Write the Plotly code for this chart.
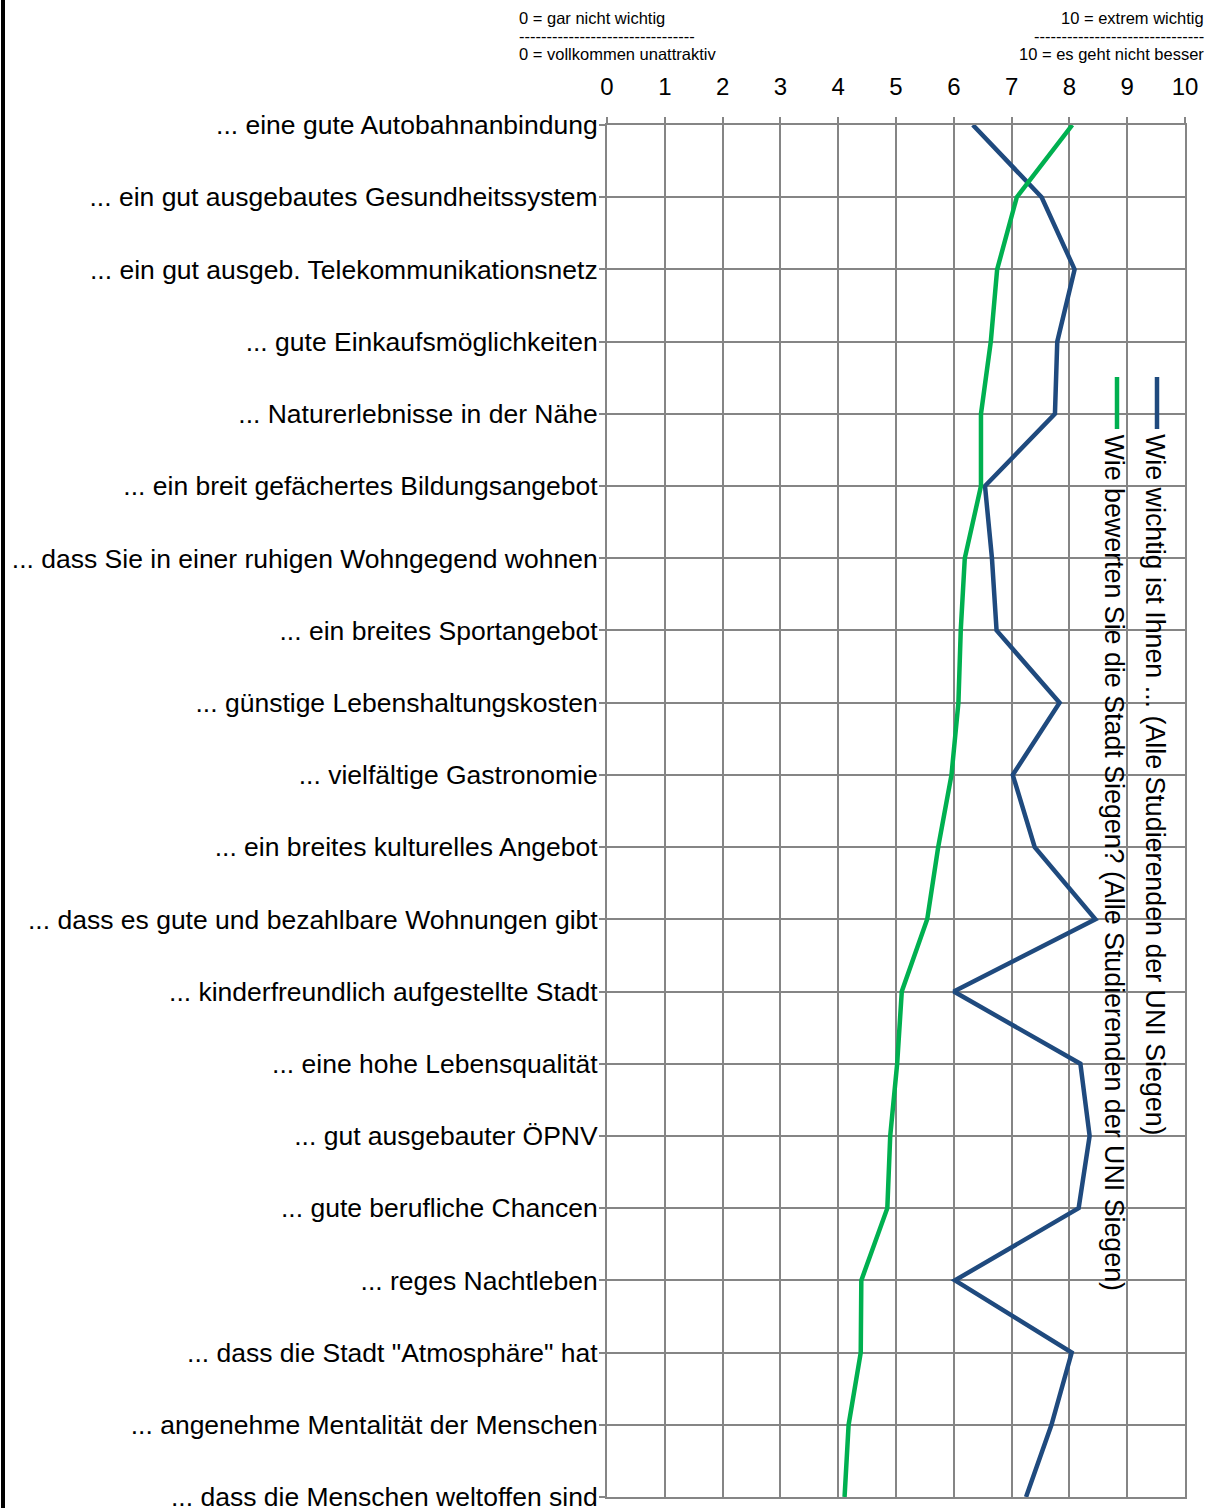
import plotly.graph_objects as go

categories = [
    "... eine gute Autobahnanbindung",
    "... ein gut ausgebautes Gesundheitssystem",
    "... ein gut ausgeb. Telekommunikationsnetz",
    "... gute Einkaufsmöglichkeiten",
    "... Naturerlebnisse in der Nähe",
    "... ein breit gefächertes Bildungsangebot",
    "... dass Sie in einer ruhigen Wohngegend wohnen",
    "... ein breites Sportangebot",
    "... günstige Lebenshaltungskosten",
    "... vielfältige Gastronomie",
    "... ein breites kulturelles Angebot",
    "... dass es gute und bezahlbare Wohnungen gibt",
    "... kinderfreundlich aufgestellte Stadt",
    "... eine hohe Lebensqualität",
    "... gut ausgebauter ÖPNV",
    "... gute berufliche Chancen",
    "... reges Nachtleben",
    "... dass die Stadt \"Atmosphäre\" hat",
    "... angenehme Mentalität der Menschen",
    "... dass die Menschen weltoffen sind",
]

wichtig = [6.33, 7.52, 8.09, 7.79, 7.75, 6.54, 6.66, 6.74, 7.83, 7.02,
           7.40, 8.45, 6.00, 8.19, 8.35, 8.16, 6.02, 8.04, 7.69, 7.25]
bewertung = [8.05, 7.09, 6.75, 6.64, 6.47, 6.47, 6.19, 6.12, 6.08, 5.96,
             5.73, 5.54, 5.10, 5.02, 4.90, 4.85, 4.40, 4.39, 4.18, 4.11]

x_ticks = list(range(0, 11))

name_wichtig = "Wie wichtig ist Ihnen ... (Alle Studierenden der UNI Siegen)"
name_bewertung = "Wie bewerten Sie die Stadt Siegen? (Alle Studierenden der UNI Siegen)"

BLUE = "#1F4A7E"
GREEN = "#00B050"
GRID = "#858585"
FONT = "Liberation Sans, Arial, sans-serif"

W, H = 1211, 1508
L, R, T, B = 607, 1185, 125, 1497

def px(x):
    return (x - L) / (R - L)

def py(y):
    return (B - y) / (B - T)

yidx = list(range(len(categories)))

fig = go.Figure()
fig.add_trace(go.Scatter(x=wichtig, y=yidx, mode="lines", name=name_wichtig,
                         line=dict(color=BLUE, width=4.5), showlegend=False))
fig.add_trace(go.Scatter(x=bewertung, y=yidx, mode="lines", name=name_bewertung,
                         line=dict(color=GREEN, width=4.5), showlegend=False))

fig.update_layout(
    width=W, height=H,
    margin=dict(l=L, r=W - R, t=T, b=H - B, pad=0, autoexpand=False),
    paper_bgcolor="white", plot_bgcolor="white",
    font=dict(family=FONT, color="black"),
    showlegend=False,
    xaxis=dict(side="top", range=[0, 10], tickvals=x_ticks, ticktext=[str(v) for v in x_ticks],
               showgrid=True, gridcolor=GRID, gridwidth=2, automargin=False,
               showline=True, linecolor=GRID, linewidth=2, mirror=True,
               ticks="outside", ticklen=6, tickcolor=GRID, tickwidth=2,
               tickfont=dict(size=24, family=FONT, color="black"),
               ticklabelstandoff=12, zeroline=False),
    yaxis=dict(range=[len(categories) - 1, 0], tickvals=yidx, ticktext=categories,
               showgrid=True, gridcolor=GRID, gridwidth=2, automargin=False,
               showline=True, linecolor=GRID, linewidth=2, mirror=True,
               ticks="outside", ticklen=6, tickcolor=GRID, tickwidth=2,
               tickfont=dict(size=26.5, family=FONT, color="black"),
               ticklabelstandoff=-4,
               ticklabeloverflow="allow", zeroline=False),
)

shapes = []
# white legend box covering grid
shapes.append(dict(type="rect", xref="paper", yref="paper", layer="between",
                   x0=px(1097), x1=px(1176), y0=py(1290), y1=py(352),
                   fillcolor="white", line=dict(width=0)))
# legend samples
shapes.append(dict(type="line", xref="paper", yref="paper", layer="above",
                   x0=px(1157), x1=px(1157), y0=py(377), y1=py(429),
                   line=dict(color=BLUE, width=4.5)))
shapes.append(dict(type="line", xref="paper", yref="paper", layer="above",
                   x0=px(1117), x1=px(1117), y0=py(377), y1=py(429),
                   line=dict(color=GREEN, width=4.5)))
# left black border
shapes.append(dict(type="line", xref="paper", yref="paper", layer="above",
                   x0=px(3), x1=px(3), y0=py(0), y1=py(H),
                   line=dict(color="black", width=4)))
fig.update_layout(shapes=shapes)

ann = []
ann.append(dict(text=name_wichtig, textangle=90, xref="paper", yref="paper",
                x=px(1155), y=py(432), xanchor="center", yanchor="top", showarrow=False,
                font=dict(size=26.8, family=FONT, color="black")))
ann.append(dict(text=name_bewertung, textangle=90, xref="paper", yref="paper",
                x=px(1114), y=py(432), xanchor="center", yanchor="top", showarrow=False,
                font=dict(size=26.8, family=FONT, color="black")))

small = dict(size=16.5, family=FONT, color="black")
ann.append(dict(text="0 = gar nicht wichtig", xref="paper", yref="paper", x=px(517), y=py(18),
                xanchor="left", yanchor="middle", showarrow=False, font=small))
ann.append(dict(text="-" * 32, xref="paper", yref="paper", x=px(517), y=py(36),
                xanchor="left", yanchor="middle", showarrow=False, font=small))
ann.append(dict(text="0 = vollkommen unattraktiv", xref="paper", yref="paper", x=px(517), y=py(54),
                xanchor="left", yanchor="middle", showarrow=False, font=small))
ann.append(dict(text="10 = extrem wichtig", xref="paper", yref="paper", x=px(1206), y=py(18),
                xanchor="right", yanchor="middle", showarrow=False, font=small))
ann.append(dict(text="-" * 31, xref="paper", yref="paper", x=px(1206), y=py(36),
                xanchor="right", yanchor="middle", showarrow=False, font=small))
ann.append(dict(text="10 = es geht nicht besser", xref="paper", yref="paper", x=px(1206), y=py(54),
                xanchor="right", yanchor="middle", showarrow=False, font=small))
fig.update_layout(annotations=ann)

fig.write_html("out.html", config={"displayModeBar": False},
               post_script="document.body.style.margin='0';document.body.style.overflow='hidden';")
